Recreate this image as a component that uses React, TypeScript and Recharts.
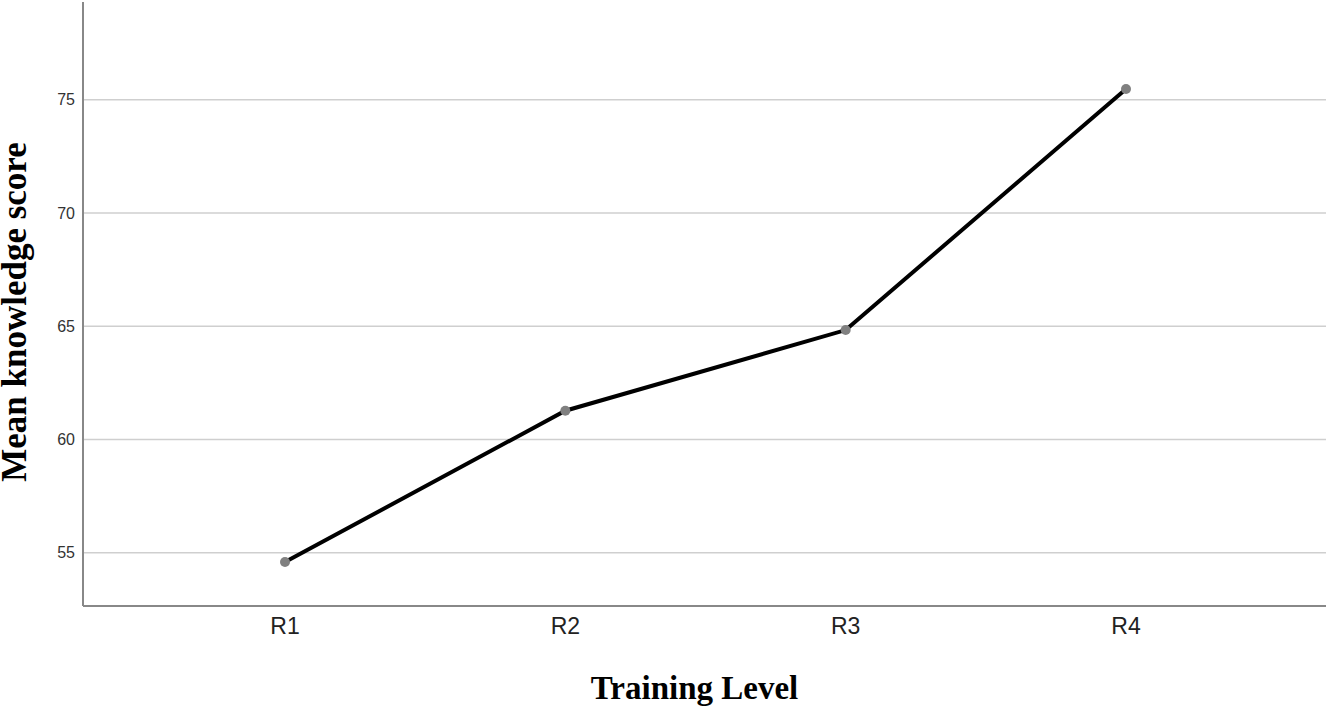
import React from 'react';
import { LineChart, Line, XAxis, YAxis, CartesianGrid, Label } from 'recharts';

const levels = ['R1', 'R2', 'R3', 'R4'];
const meanScores = [54.59, 61.27, 64.83, 75.47];
const yTicks = [55, 60, 65, 70, 75];

const data = levels.map((level, i) => ({ level, score: meanScores[i] }));

const serifBold = { fontFamily: '"Liberation Serif", "Times New Roman", serif', fontWeight: 700, fill: '#000' };
const sans = '"Liberation Sans", Arial, sans-serif';

const App: React.FC = () => {
  return (
    <div style={{ position: 'absolute', left: 0, top: 0, background: '#fff' }}>
      <LineChart width={1329} height={707} data={data} margin={{ top: 2, right: 3, bottom: 0, left: 0 }}>
        <CartesianGrid vertical={false} horizontalValues={yTicks} stroke="#cfcfcf" strokeWidth={1.5} />
        <XAxis
          dataKey="level"
          padding={{ left: 202, right: 200 }}
          height={101}
          stroke="#888"
          strokeWidth={2}
          tickLine={false}
          tickSize={0}
          tickMargin={12}
          tick={{ fontSize: 23, fill: '#222', fontFamily: sans }}
        >
          <Label
            content={({ viewBox }: any) => (
              <text x={viewBox.x + viewBox.width / 2 - 10} y={699} textAnchor="middle" fontSize={33} {...serifBold}>
                Training Level
              </text>
            )}
          />
        </XAxis>
        <YAxis
          domain={[52.65, 79.31]}
          ticks={yTicks}
          width={83}
          stroke="#888"
          strokeWidth={2}
          tickLine={false}
          tick={{ fontSize: 16, fill: '#333', fontFamily: sans }}
        >
          <Label
            content={({ viewBox }: any) => {
              const cy = viewBox.y + viewBox.height / 2 + 8;
              return (
                <text x={26} y={cy} textAnchor="middle" fontSize={35} transform={`rotate(-90 26 ${cy})`} {...serifBold}>
                  Mean knowledge score
                </text>
              );
            }}
          />
        </YAxis>
        <Line
          type="linear"
          dataKey="score"
          stroke="#000"
          strokeWidth={4}
          dot={{ r: 5, fill: '#808080', stroke: '#808080', strokeWidth: 0 }}
          activeDot={false}
          isAnimationActive={false}
        />
      </LineChart>
    </div>
  );
};

export default App;
